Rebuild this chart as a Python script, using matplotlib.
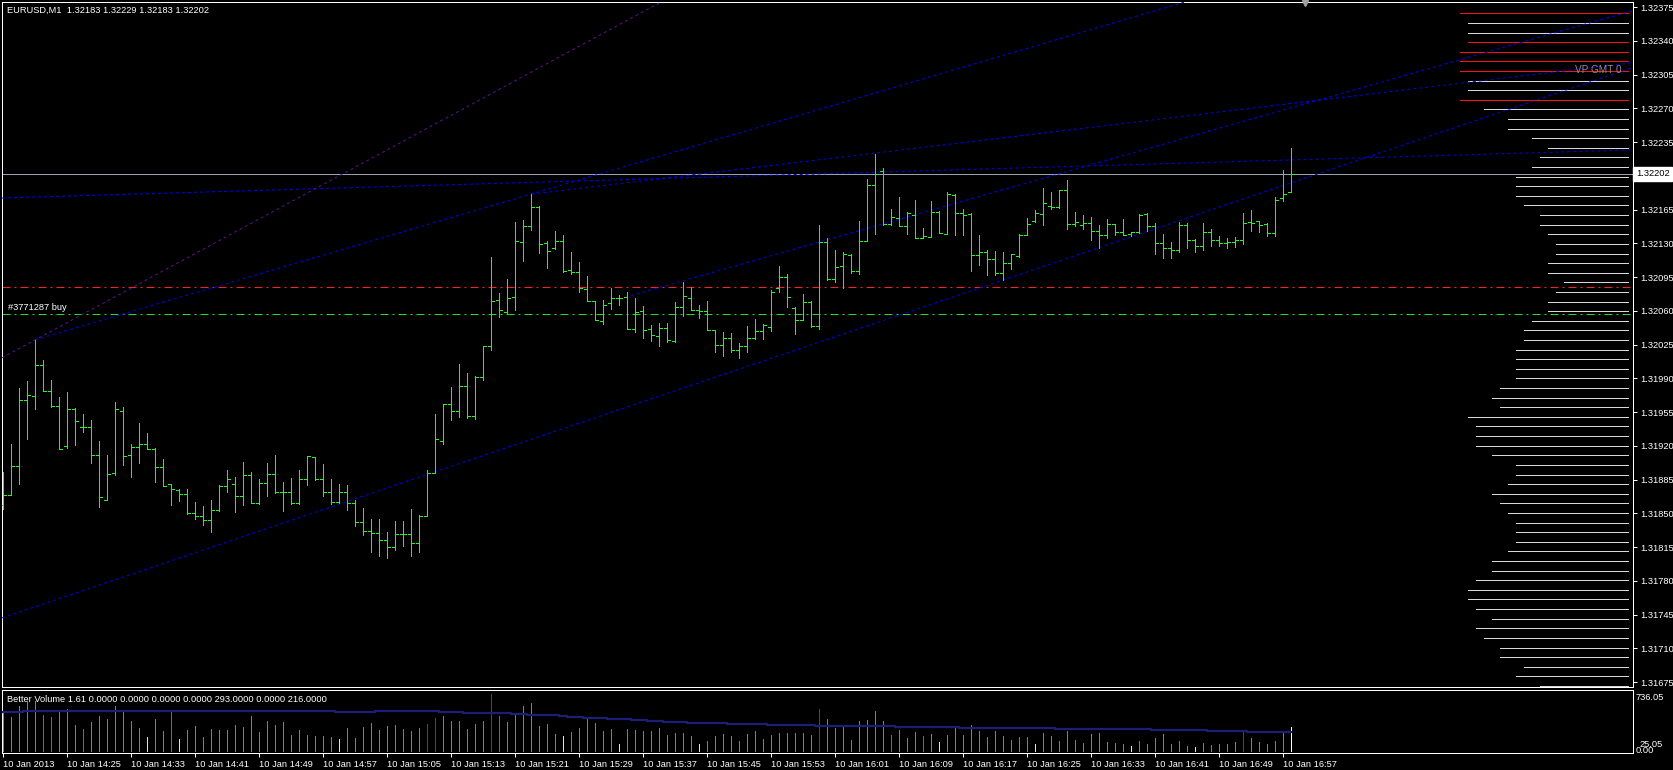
import numpy as np
import matplotlib
matplotlib.use('Agg')
import matplotlib.pyplot as plt
from matplotlib.collections import LineCollection
from matplotlib.transforms import blended_transform_factory

plt.rcParams['font.family'] = ['Liberation Sans', 'DejaVu Sans']

# ---------------- data ----------------
title_text = "EURUSD,M1  1.32183 1.32229 1.32183 1.32202"
indicator_text = "Better Volume 1.61 0.0000 0.0000 0.0000 0.0000 293.0000 0.0000 216.0000"
order_label = "#3771287 buy"
profile_label = "VP GMT 0"

opens = [1.31859,1.31869,1.31899,1.31967,1.31972,1.32004,1.31977,1.31961,1.31920,1.31958,
         1.31940,1.31940,1.31910,1.31864,1.31892,1.31956,1.31910,1.31919,1.31922,1.31917,
         1.31898,1.31880,1.31874,1.31870,1.31850,1.31847,1.31843,1.31853,1.31878,1.31880,
         1.31868,1.31890,1.31861,1.31881,1.31891,1.31872,1.31872,1.31861,1.31886,1.31908,
         1.31886,1.31872,1.31862,1.31872,1.31861,1.31841,1.31832,1.31830,1.31822,1.31815,
         1.31829,1.31829,1.31819,1.31847,1.31892,1.31925,1.31963,1.31956,1.31982,1.31951,
         1.31991,1.32023,1.32071,1.32059,1.32074,1.32131,1.32148,1.32168,1.32130,1.32125,
         1.32132,1.32102,1.32100,1.32083,1.32070,1.32049,1.32068,1.32073,1.32074,1.32041,
         1.32060,1.32041,1.32034,1.32042,1.32029,1.32064,1.32073,1.32061,1.32060,1.32040,
         1.32025,1.32032,1.32019,1.32024,1.32032,1.32039,1.32043,1.32084,1.32095,1.32063,
         1.32050,1.32069,1.32044,1.32131,1.32093,1.32106,1.32118,1.32101,1.32132,1.32190,
         1.32205,1.32150,1.32156,1.32148,1.32159,1.32136,1.32137,1.32162,1.32140,1.32180,
         1.32161,1.32160,1.32118,1.32121,1.32114,1.32099,1.32110,1.32117,1.32139,1.32153,
         1.32160,1.32169,1.32168,1.32185,1.32150,1.32149,1.32151,1.32143,1.32139,1.32150,
         1.32142,1.32140,1.32142,1.32160,1.32148,1.32130,1.32125,1.32123,1.32149,1.32133,
         1.32127,1.32142,1.32133,1.32130,1.32131,1.32133,1.32152,1.32153,1.32150,1.32141,
         1.32177,1.32183]
highs = [1.31893,1.31922,1.31980,1.31987,1.32030,1.32009,1.31988,1.31971,1.31976,1.31959,
         1.31953,1.31947,1.31925,1.31910,1.31965,1.31960,1.31922,1.31944,1.31933,1.31918,
         1.31906,1.31880,1.31875,1.31875,1.31862,1.31858,1.31864,1.31879,1.31895,1.31888,
         1.31903,1.31893,1.31886,1.31902,1.31910,1.31882,1.31887,1.31895,1.31909,1.31908,
         1.31901,1.31886,1.31880,1.31879,1.31864,1.31856,1.31844,1.31844,1.31831,1.31842,
         1.31842,1.31854,1.31848,1.31895,1.31953,1.31963,1.31981,1.32005,1.31995,1.31992,
         1.32024,1.32116,1.32078,1.32093,1.32152,1.32154,1.32181,1.32169,1.32132,1.32143,
         1.32139,1.32121,1.32111,1.32096,1.32070,1.32071,1.32084,1.32076,1.32079,1.32073,
         1.32065,1.32045,1.32047,1.32047,1.32069,1.32090,1.32085,1.32066,1.32070,1.32040,
         1.32038,1.32037,1.32027,1.32044,1.32052,1.32046,1.32082,1.32106,1.32098,1.32064,
         1.32077,1.32070,1.32149,1.32135,1.32123,1.32121,1.32119,1.32153,1.32197,1.32223,
         1.32208,1.32166,1.32178,1.32162,1.32175,1.32146,1.32174,1.32163,1.32183,1.32181,
         1.32166,1.32161,1.32139,1.32123,1.32122,1.32121,1.32119,1.32140,1.32156,1.32164,
         1.32187,1.32183,1.32185,1.32196,1.32162,1.32159,1.32157,1.32149,1.32155,1.32150,
         1.32155,1.32142,1.32160,1.32161,1.32151,1.32140,1.32131,1.32152,1.32151,1.32134,
         1.32151,1.32145,1.32138,1.32136,1.32137,1.32161,1.32165,1.32153,1.32151,1.32178,
         1.32206,1.32229]
lows = [1.31854,1.31869,1.31880,1.31927,1.31958,1.31977,1.31960,1.31917,1.31918,1.31921,
        1.31934,1.31902,1.31857,1.31864,1.31890,1.31900,1.31888,1.31902,1.31917,1.31882,
        1.31878,1.31859,1.31863,1.31849,1.31844,1.31838,1.31831,1.31852,1.31872,1.31851,
        1.31859,1.31861,1.31860,1.31868,1.31871,1.31852,1.31860,1.31860,1.31879,1.31885,
        1.31868,1.31860,1.31861,1.31853,1.31837,1.31827,1.31810,1.31806,1.31804,1.31812,
        1.31816,1.31806,1.31810,1.31847,1.31892,1.31922,1.31947,1.31950,1.31949,1.31948,
        1.31988,1.32019,1.32054,1.32058,1.32061,1.32112,1.32144,1.32120,1.32104,1.32124,
        1.32100,1.32098,1.32080,1.32070,1.32050,1.32046,1.32062,1.32066,1.32041,1.32038,
        1.32032,1.32029,1.32024,1.32028,1.32028,1.32055,1.32061,1.32053,1.32040,1.32017,
        1.32013,1.32017,1.32011,1.32017,1.32031,1.32031,1.32039,1.32079,1.32064,1.32036,
        1.32050,1.32043,1.32041,1.32092,1.32090,1.32084,1.32099,1.32098,1.32132,1.32140,
        1.32149,1.32149,1.32148,1.32140,1.32136,1.32135,1.32137,1.32141,1.32140,1.32139,
        1.32139,1.32101,1.32108,1.32097,1.32097,1.32092,1.32103,1.32116,1.32139,1.32152,
        1.32149,1.32166,1.32167,1.32145,1.32148,1.32145,1.32133,1.32125,1.32135,1.32139,
        1.32139,1.32138,1.32141,1.32143,1.32119,1.32115,1.32115,1.32121,1.32125,1.32121,
        1.32123,1.32127,1.32127,1.32125,1.32126,1.32129,1.32143,1.32142,1.32138,1.32138,
        1.32174,1.32183]
closes = [1.31869,1.31899,1.31967,1.31973,1.32004,1.31977,1.31961,1.31917,1.31958,1.31946,
          1.31940,1.31910,1.31867,1.31891,1.31958,1.31909,1.31919,1.31922,1.31917,1.31898,
          1.31878,1.31875,1.31870,1.31850,1.31847,1.31843,1.31853,1.31878,1.31886,1.31868,
          1.31890,1.31861,1.31881,1.31891,1.31872,1.31872,1.31861,1.31886,1.31909,1.31886,
          1.31872,1.31862,1.31872,1.31861,1.31841,1.31832,1.31830,1.31822,1.31815,1.31829,
          1.31829,1.31819,1.31847,1.31892,1.31927,1.31963,1.31956,1.31982,1.31951,1.31991,
          1.32023,1.32070,1.32061,1.32073,1.32132,1.32148,1.32168,1.32129,1.32122,1.32132,
          1.32101,1.32100,1.32084,1.32070,1.32050,1.32066,1.32073,1.32073,1.32041,1.32059,
          1.32040,1.32035,1.32042,1.32030,1.32064,1.32075,1.32061,1.32060,1.32040,1.32025,
          1.32032,1.32019,1.32024,1.32032,1.32039,1.32045,1.32079,1.32095,1.32074,1.32050,
          1.32069,1.32044,1.32131,1.32093,1.32105,1.32119,1.32101,1.32132,1.32190,1.32202,
          1.32150,1.32157,1.32148,1.32161,1.32136,1.32138,1.32162,1.32141,1.32181,1.32161,
          1.32159,1.32118,1.32121,1.32114,1.32099,1.32110,1.32119,1.32139,1.32150,1.32161,
          1.32172,1.32168,1.32185,1.32150,1.32152,1.32151,1.32143,1.32139,1.32150,1.32142,
          1.32139,1.32142,1.32159,1.32148,1.32130,1.32125,1.32123,1.32149,1.32133,1.32127,
          1.32142,1.32133,1.32130,1.32131,1.32133,1.32151,1.32151,1.32149,1.32141,1.32175,
          1.32181,1.32202]

volumes = [468,415,549,602,611,440,415,480,513,317,
           269,354,427,391,549,480,370,281,171,391,
           244,480,147,260,305,171,269,256,252,317,
           293,427,232,366,317,354,195,252,195,183,
           183,171,147,281,159,293,342,256,305,317,
           269,244,281,330,403,427,366,366,269,330,
           366,696,427,354,452,549,590,305,330,208,
           183,232,281,391,342,244,269,85,269,256,
           244,244,281,195,220,220,183,85,122,183,
           208,183,122,208,244,147,195,220,220,220,
           220,195,513,391,281,293,134,366,379,488,
           366,195,256,159,232,183,208,110,195,281,
           195,317,244,171,244,183,134,171,171,85,
           220,183,122,244,134,98,208,220,110,98,
           85,61,122,85,159,208,85,122,61,49,
           98,73,85,85,110,232,159,110,85,122,
           220,293]
vol_green_bars = [5, 6, 10, 21, 62, 111, 115]
vol_yellow_bars = [18, 22, 42, 70, 77, 87, 117, 129, 141, 149]
vol_red_bars = [53, 54, 61, 102, 155]
vol_white_bars = [161]
avg_step_start = [0, 3, 42, 47, 55, 58, 64, 66, 70, 71, 73, 76, 79, 81, 83, 86, 91, 96, 102, 112, 120, 132, 144, 151, 156]
avg_step_value = [480, 492, 476, 488, 480, 468, 452, 435, 427, 415, 399, 387, 374, 362, 350, 338, 326, 313, 305, 297, 281, 269, 256, 248, 232]
vol_scale_top = "736.05"
vol_scale_bottom = ["25.05", "0.00"]

time_tick_bars = list(range(0, 161, 8))
time_labels = ["10 Jan 2013", "10 Jan 14:25", "10 Jan 14:33", "10 Jan 14:41", "10 Jan 14:49",
               "10 Jan 14:57", "10 Jan 15:05", "10 Jan 15:13", "10 Jan 15:21", "10 Jan 15:29",
               "10 Jan 15:37", "10 Jan 15:45", "10 Jan 15:53", "10 Jan 16:01", "10 Jan 16:09",
               "10 Jan 16:17", "10 Jan 16:25", "10 Jan 16:33", "10 Jan 16:41", "10 Jan 16:49",
               "10 Jan 16:57"]
price_ticks = [1.32375, 1.32340, 1.32305, 1.32270, 1.32235, 1.32165, 1.32130, 1.32095,
               1.32060, 1.32025, 1.31990, 1.31955, 1.31920, 1.31885, 1.31850, 1.31815,
               1.31780, 1.31745, 1.31710, 1.31675]
current_price = 1.32202
sl_price = 1.32085
open_price = 1.32057

# volume profile (counts per price bin, top -> bottom)
profile_top = 1.323685
profile_bottom = 1.316710
profile_counts = [21,20,20,20,21,21,21,20,20,21,18,15,15,12,10,11,12,14,14,14,
                  13,11,11,10,9,9,10,10,8,9,10,10,12,13,13,14,14,14,14,16,
                  17,16,20,19,19,19,17,14,14,15,17,16,15,14,14,14,15,17,17,19,
                  20,20,19,17,19,18,16,16,13,14,11]
profile_red_bins = [0, 3, 4, 5, 6, 9]

# trendlines: (bar, price) anchor pairs
full_lines = {'a': ((0, 1.32177), (200, 1.32226)),
              'c': ((0, 1.31742), (100, 1.32022))}
purple_line = ((4, 1.32030), (50, 1.32236))
ray_lines = {'b': ((4, 1.32030), (100, 1.32264)),
             'd': ((66, 1.32181), (166, 1.32280)),
             'e': ((77.7, 1.32074), (177.7, 1.32310))}

# ---------------- layout ----------------
W, H = 1674, 770
def px_axes(x0, y0, x1, y1):
    return [x0 / W, 1 - y1 / H, (x1 - x0) / W, (y1 - y0) / H]

fig = plt.figure(figsize=(W / 100, H / 100), dpi=100, facecolor='black')
ax = fig.add_axes(px_axes(2, 2, 1633, 687), facecolor='black')
axv = fig.add_axes(px_axes(2, 689.5, 1633, 753), facecolor='black')

PX = 0.72  # one pixel in points
xlim = (-0.1875, 203.6875)
FS = 6.7
bar_green = '#2cf02c'
for a in (ax, axv):
    a.set_xlim(*xlim)
    for s in a.spines.values():
        s.set_color('white')
        s.set_linewidth(PX)
ax.set_ylim(1.316699, 1.323802)
axv.set_ylim(-24, 751)

# horizontal lines
ax.axhline(current_price, color='#9aa2ad', lw=PX, zorder=2)
ax.axhline(sl_price, color='#ff2020', lw=PX, dashes=(8, 4, 2, 4), zorder=2)
ax.axhline(open_price, color='#22dd22', lw=PX, dashes=(8, 4, 2, 4), zorder=2)

# trendlines
for p1, p2 in full_lines.values():
    ax.axline(p1, p2, color='#0000f0', lw=PX, dashes=(3, 3), zorder=3)
ax.axline(purple_line[0], purple_line[1], color='#5a148f', lw=PX, dashes=(3, 3), zorder=3)
for (x1, y1), (x2, y2) in ray_lines.values():
    slope = (y2 - y1) / (x2 - x1)
    xf = 260
    ax.plot([x1, xf], [y1, y1 + slope * (xf - x1)], color='#0000f0', lw=PX,
            dashes=(3, 3), zorder=3)

# volume profile
levels = np.linspace(profile_top, profile_bottom, len(profile_counts))
prof_end = (1628 - 3.5) / 8.0
pcolors = ['#ff1010' if k in profile_red_bins else '#d8d8d8' for k in range(len(profile_counts))]
ax.hlines(levels, prof_end - np.array(profile_counts), prof_end, colors=pcolors,
          lw=PX, antialiased=False, zorder=2)
ax.text(prof_end - 0.8, 1.32310, profile_label, color='#8c8c8c', fontsize=7.2,
        ha='right', va='center', zorder=4)

# OHLC bars
segs = []
tick = 0.375
for i, (o, h, l, c) in enumerate(zip(opens, highs, lows, closes)):
    segs.append([(i, l), (i, h)])
    segs.append([(i - tick, o), (i, o)])
    segs.append([(i, c), (i + tick, c)])
ax.add_collection(LineCollection(segs, colors=bar_green, linewidths=PX,
                                 antialiaseds=False, zorder=5))

# texts in main window
ax.text(0.003, 0.988, title_text, transform=ax.transAxes, color='white',
        fontsize=FS, ha='left', va='center')
ax.text(0.0035, open_price + 0.000015, order_label, color='white', fontsize=FS,
        ha='left', va='bottom', transform=blended_transform_factory(ax.transAxes, ax.transData))
shift_tr = blended_transform_factory(ax.transData, ax.transAxes)
ax.plot([162.7], [0.998], marker='v', ms=5, color='#a0a0a0', transform=shift_tr,
        clip_on=False, zorder=6)

# price axis
ax.set_xticks([])
ax.yaxis.tick_right()
ax.set_yticks(price_ticks)
ax.set_yticklabels([f'{p:.5f}' for p in price_ticks])
ax.tick_params(axis='y', colors='white', direction='out', length=3, width=PX,
               pad=2, labelsize=FS)
ax.text(1.0018, current_price, f'{current_price:.5f}', color='black', fontsize=FS,
        ha='left', va='center', clip_on=False,
        transform=blended_transform_factory(ax.transAxes, ax.transData),
        bbox=dict(boxstyle='square,pad=0.3', fc='white', ec='white'))

# volume window
idx = np.arange(len(volumes))
vcols = []
for i in idx:
    if i in vol_red_bars:
        vcols.append('#ff0000')
    elif i in vol_green_bars:
        vcols.append('#22a022')
    elif i in vol_yellow_bars:
        vcols.append('#ffff00')
    elif i in vol_white_bars:
        vcols.append('#ffffff')
    else:
        vcols.append('#808080')
axv.vlines(idx, 0, volumes, colors=vcols, lw=PX, antialiased=False, zorder=3)
counts = np.diff(avg_step_start + [len(volumes)])
avg_line = np.repeat(avg_step_value, counts)
axv.plot(idx, avg_line, color='#1e1e78', lw=1.6, drawstyle='steps-mid', zorder=4)
axv.text(0.003, 0.84, indicator_text, transform=axv.transAxes, color='white',
         fontsize=FS, ha='left', va='center')
axv.set_yticks([])
axv.text(1.0018, 0.88, vol_scale_top, transform=axv.transAxes, color='white',
         fontsize=FS, ha='left', va='center', clip_on=False)
axv.text(1.0043, 0.13, vol_scale_bottom[0], transform=axv.transAxes, color='white',
         fontsize=FS, ha='left', va='center', clip_on=False)
axv.text(1.0018, 0.04, vol_scale_bottom[1], transform=axv.transAxes, color='white',
         fontsize=FS, ha='left', va='center', clip_on=False)

axv.set_xticks(time_tick_bars)
axv.set_xticklabels(time_labels)
axv.tick_params(axis='x', colors='white', direction='out', length=3, width=PX,
                pad=2, labelsize=FS)
for lab in axv.get_xticklabels():
    lab.set_horizontalalignment('left')

fig.savefig('out.png', dpi=100, facecolor='black')
